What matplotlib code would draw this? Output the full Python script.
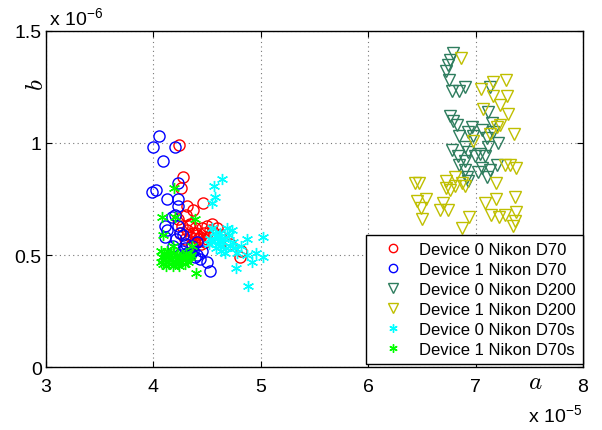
import matplotlib
matplotlib.use("Agg")
import matplotlib.pyplot as plt
from matplotlib.ticker import MultipleLocator, FormatStrFormatter

plt.rcParams['font.family'] = ['Liberation Sans', 'DejaVu Sans']
plt.rcParams['mathtext.fontset'] = 'cm'

# a in units of 1e-5, b in units of 1e-6
d70_0_a = [4.24, 4.28, 4.26, 4.46, 4.37, 4.31, 4.30, 4.50, 4.37, 4.43, 4.48, 4.55, 4.59,
           4.71, 4.82, 4.81, 4.25, 4.31, 4.35, 4.40, 4.45, 4.38, 4.42, 4.33, 4.52, 4.47,
           4.36, 4.41, 4.29, 4.56, 4.39, 4.44, 4.50, 4.34, 4.62, 4.23, 4.53, 4.27]
d70_0_b = [0.99, 0.85, 0.80, 0.73, 0.70, 0.72, 0.68, 0.63, 0.60, 0.58, 0.56, 0.64, 0.62,
           0.55, 0.52, 0.49, 0.60, 0.61, 0.58, 0.60, 0.62, 0.56, 0.57, 0.63, 0.58, 0.60,
           0.55, 0.59, 0.57, 0.60, 0.62, 0.55, 0.57, 0.64, 0.59, 0.66, 0.61, 0.63]

d70_1_a = [4.05, 4.00, 4.20, 4.09, 4.23, 3.99, 4.02, 4.13, 4.23, 4.23, 4.20, 4.17, 4.11,
           4.13, 4.23, 4.25, 4.28, 4.11, 4.18, 4.27, 4.31, 4.36, 4.41, 4.43, 4.50, 4.53,
           4.41, 4.37, 4.45, 4.29, 4.33, 4.25, 4.39, 4.21, 4.30, 4.35]
d70_1_b = [1.03, 0.98, 0.98, 0.92, 0.82, 0.78, 0.79, 0.75, 0.75, 0.72, 0.68, 0.67, 0.63,
           0.61, 0.63, 0.60, 0.59, 0.58, 0.54, 0.52, 0.51, 0.54, 0.50, 0.48, 0.47, 0.43,
           0.56, 0.52, 0.52, 0.53, 0.50, 0.50, 0.49, 0.57, 0.55, 0.51]

d200_0_a = [6.79, 6.76, 6.74, 6.72, 6.75, 6.78, 6.85, 6.90, 7.13, 7.12, 6.76, 6.79, 6.83,
            6.97, 6.93, 7.06, 7.15, 7.16, 6.85, 6.98, 7.11, 7.21, 6.78, 6.90, 6.93, 7.04,
            7.12, 6.84, 6.90, 6.99, 7.09, 6.85, 6.90, 7.02, 7.06, 7.11, 7.13, 7.20, 6.92, 6.93]
d200_0_b = [1.40, 1.37, 1.35, 1.32, 1.28, 1.23, 1.23, 1.25, 1.25, 1.14, 1.12, 1.10, 1.08,
            1.07, 1.05, 1.06, 1.09, 1.05, 1.03, 1.03, 1.02, 1.00, 0.97, 0.98, 0.96, 0.95,
            0.98, 0.94, 0.92, 0.94, 0.94, 0.90, 0.88, 0.87, 0.89, 0.85, 0.88, 0.90, 0.85, 0.83]

d200_1_a = [6.86, 7.28, 7.16, 7.05, 7.16, 7.29, 7.23, 7.07, 7.30, 7.23, 7.20, 7.13, 7.36,
            6.98, 7.27, 7.32, 7.38, 6.81, 6.72, 6.87, 6.90, 6.44, 6.47, 6.72, 6.76, 6.81,
            7.19, 6.45, 6.54, 6.49, 6.70, 6.67, 6.74, 7.19, 7.37, 7.09, 6.50, 6.94, 6.87,
            7.14, 7.22, 7.27, 7.38, 7.37, 7.35]
d200_1_b = [1.38, 1.28, 1.27, 1.24, 1.21, 1.21, 1.17, 1.15, 1.13, 1.08, 1.07, 1.04, 1.04,
            1.01, 0.90, 0.90, 0.89, 0.85, 0.83, 0.82, 0.81, 0.82, 0.82, 0.80, 0.79, 0.81,
            0.82, 0.74, 0.75, 0.71, 0.73, 0.70, 0.70, 0.75, 0.76, 0.73, 0.66, 0.67, 0.62,
            0.68, 0.67, 0.68, 0.69, 0.65, 0.63]

d70s_0_a = [4.64, 4.56, 4.57, 4.55, 4.69, 4.73, 4.55, 4.62, 4.87, 5.02, 4.55, 4.62, 4.68,
            4.78, 4.87, 4.96, 4.92, 5.02, 4.77, 4.88, 4.53, 4.59, 4.65, 4.71, 4.60, 4.66,
            4.58, 4.74, 4.63, 4.70, 4.57, 4.67, 4.82, 4.61, 4.52, 4.76]
d70s_0_b = [0.84, 0.81, 0.76, 0.73, 0.62, 0.61, 0.62, 0.60, 0.57, 0.58, 0.56, 0.54, 0.53,
            0.51, 0.50, 0.51, 0.47, 0.49, 0.44, 0.36, 0.57, 0.58, 0.56, 0.54, 0.55, 0.57,
            0.53, 0.56, 0.52, 0.59, 0.60, 0.51, 0.54, 0.58, 0.55, 0.53]

d70s_1_a = [4.19, 4.08, 4.20, 4.39, 4.09, 4.18, 4.36, 4.40, 4.07, 4.10, 4.13, 4.16, 4.19,
            4.22, 4.25, 4.28, 4.31, 4.34, 4.08, 4.11, 4.14, 4.17, 4.20, 4.23, 4.26, 4.29,
            4.32, 4.09, 4.12, 4.15, 4.18, 4.21, 4.24, 4.27, 4.07, 4.35, 4.30, 4.12, 4.22]
d70s_1_b = [0.80, 0.67, 0.67, 0.66, 0.59, 0.54, 0.54, 0.42, 0.52, 0.51, 0.52, 0.50, 0.51,
            0.50, 0.49, 0.50, 0.48, 0.49, 0.49, 0.48, 0.47, 0.48, 0.47, 0.46, 0.47, 0.46,
            0.47, 0.46, 0.45, 0.46, 0.45, 0.47, 0.45, 0.48, 0.47, 0.50, 0.51, 0.49, 0.48]

labels = ["Device 0 Nikon D70", "Device 1 Nikon D70", "Device 0 Nikon D200",
          "Device 1 Nikon D200", "Device 0 Nikon D70s", "Device 1 Nikon D70s"]

fig = plt.figure(figsize=(6.02, 4.31), dpi=100)
ax = fig.add_axes([0.0764, 0.146, 0.892, 0.780])

ms = 8
star = (6, 2, 0)
ax.plot(d70_0_a, d70_0_b, 'o', mfc='none', mec='#ff0000', ms=ms, mew=1.0, label=labels[0])
ax.plot(d70_1_a, d70_1_b, 'o', mfc='none', mec='#0000ff', ms=ms, mew=1.0, label=labels[1])
ax.plot(d200_0_a, d200_0_b, 'v', mfc='none', mec='#2e7d5e', ms=ms + 1, mew=1.0, label=labels[2])
ax.plot(d200_1_a, d200_1_b, 'v', mfc='none', mec='#bfbf00', ms=ms + 1, mew=1.0, label=labels[3])
ax.plot(d70s_0_a, d70s_0_b, ls='none', marker=star, color='#00ffff', ms=ms, mew=1.0, label=labels[4])
ax.plot(d70s_1_a, d70s_1_b, ls='none', marker=star, color='#00ff00', ms=ms, mew=1.0, label=labels[5])

ax.set_xlim(3, 8)
ax.set_ylim(0, 1.5)
ax.xaxis.set_major_locator(MultipleLocator(1))
ax.yaxis.set_major_locator(MultipleLocator(0.5))
ax.xaxis.set_major_formatter(FormatStrFormatter('%g'))
ax.yaxis.set_major_formatter(FormatStrFormatter('%g'))
ax.tick_params(direction='in', labelsize=14, length=4, top=True, right=True)
ax.tick_params(axis='x', pad=8)
ax.tick_params(axis='y', pad=3)
ax.grid(True, linestyle=(0, (1, 3)), color='#777777', linewidth=0.8)
for s in ax.spines.values():
    s.set_linewidth(1.0)

fig.text(0.081, 0.942, r'x 10$\mathregular{^{-6}}$', fontsize=14, ha='left', va='baseline')
fig.text(0.967, 0.020, r'x 10$\mathregular{^{-5}}$', fontsize=14, ha='right', va='baseline')
fig.text(0.889, 0.113, r'$a$', fontsize=18, ha='center', va='center')
fig.text(0.060, 0.803, r'$b$', fontsize=18, ha='center', va='center', rotation=90)

leg = ax.legend(loc='lower right', bbox_to_anchor=(1.0, 0.009), fontsize=12,
                fancybox=False, edgecolor='black', framealpha=1, handlelength=2.4,
                handletextpad=0.4, borderpad=0.42, labelspacing=0.3, borderaxespad=0.0,
                markerscale=0.75)
leg.get_frame().set_linewidth(1.0)

fig.savefig('out.png', dpi=100)
